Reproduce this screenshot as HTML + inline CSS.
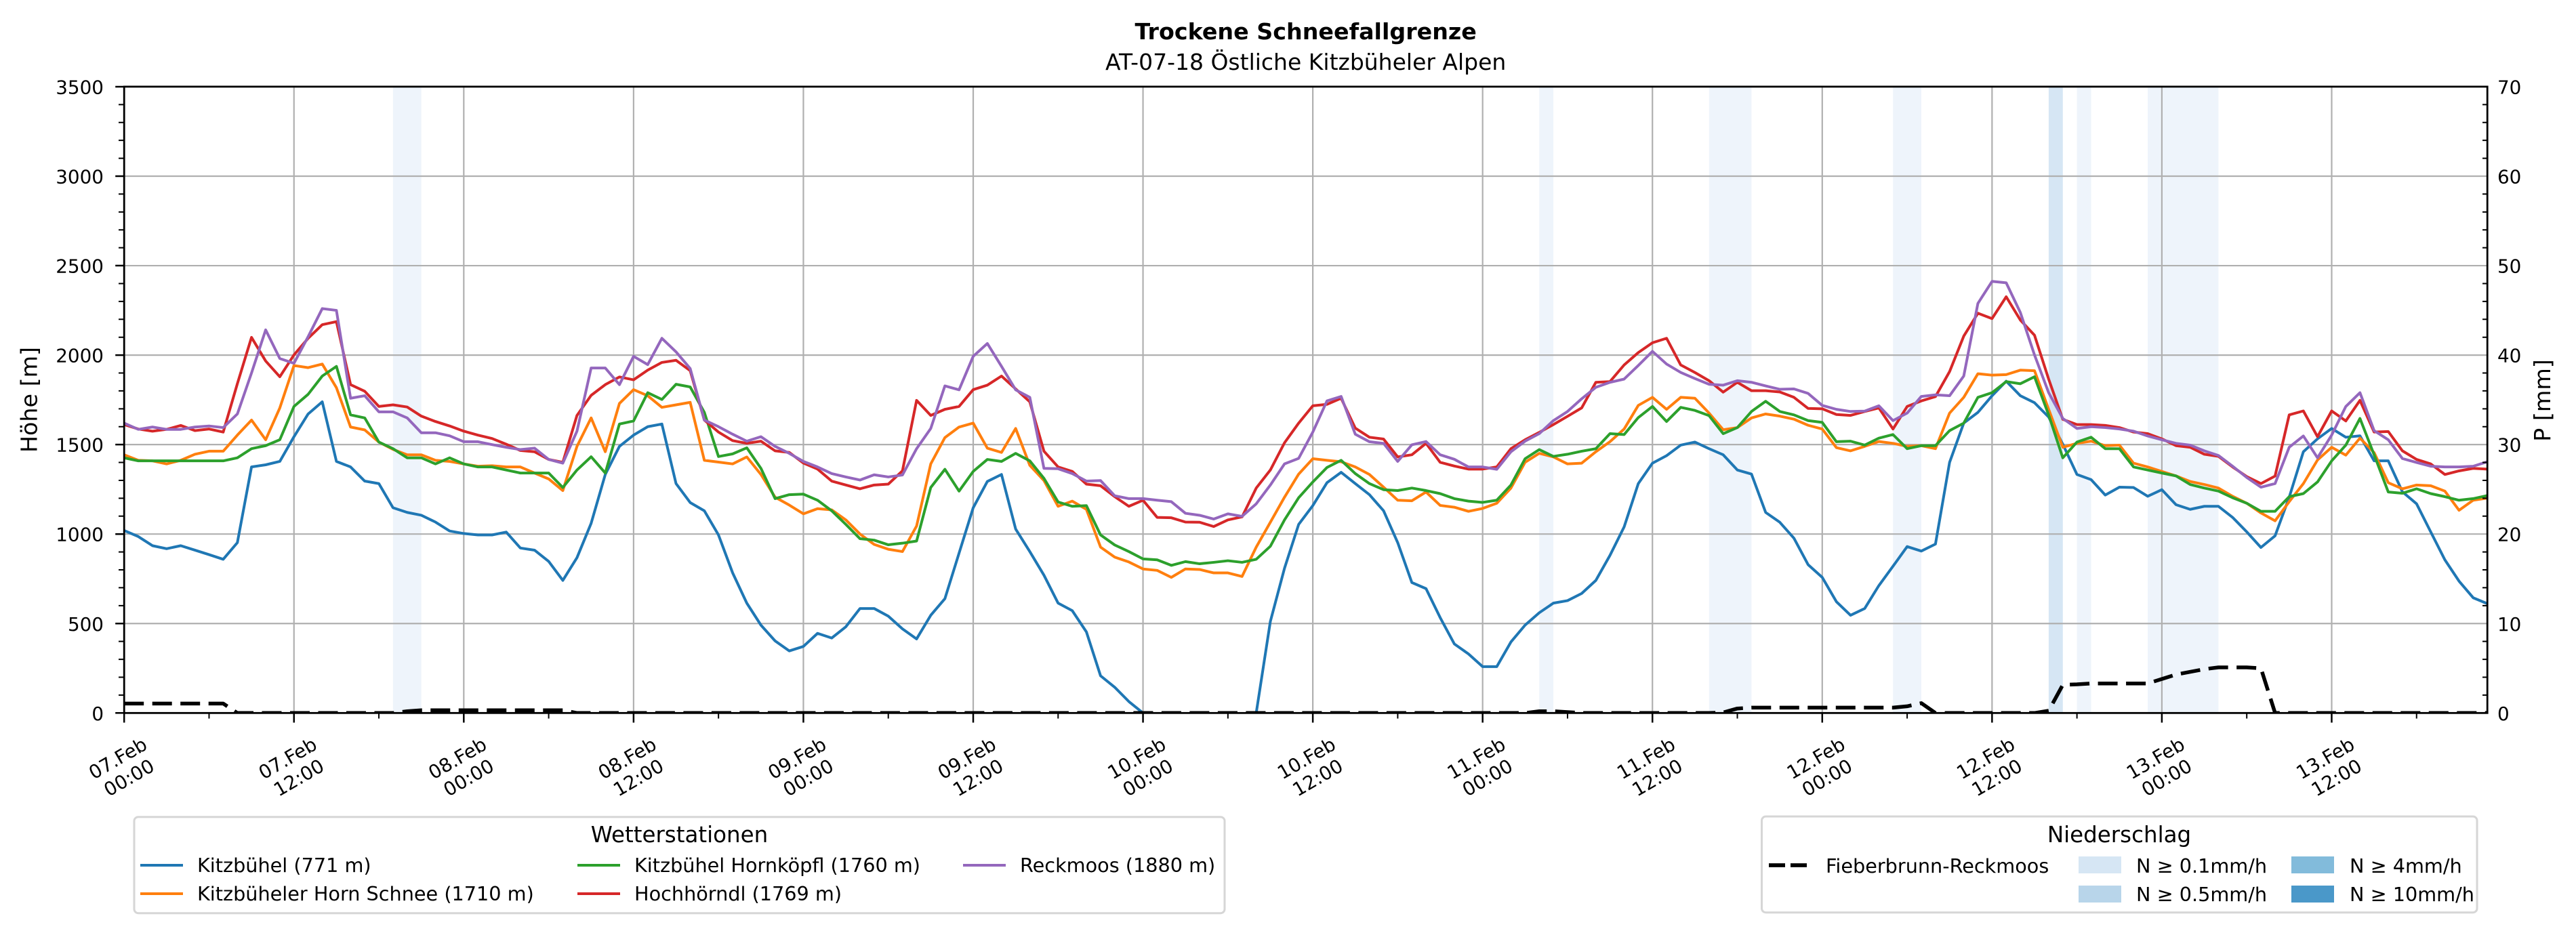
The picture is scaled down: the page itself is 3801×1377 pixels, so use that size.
<!DOCTYPE html>
<html><head><meta charset="utf-8"><style>html,body{margin:0;padding:0;background:#fff}svg{display:block}</style></head>
<body>
<svg width="3801" height="1377" viewBox="0 0 3801 1377" xmlns="http://www.w3.org/2000/svg" font-family="'DejaVu Sans','Liberation Sans',sans-serif">
<rect width="3801" height="1377" fill="#fff"/>
<defs><clipPath id="c"><rect x="183.2" y="127.9" width="3487" height="924.4"/></clipPath></defs>
<!-- precipitation shading -->
<g fill="#eef4fb">
<rect x="579.9" y="127.9" width="41.8" height="924.4"/>
<rect x="2271.2" y="127.9" width="20.9" height="924.4"/>
<rect x="2521.8" y="127.9" width="62.6" height="924.4"/>
<rect x="2793.2" y="127.9" width="41.8" height="924.4"/>
<rect x="3064.6" y="127.9" width="20.9" height="924.4"/>
<rect x="3169.0" y="127.9" width="104.4" height="924.4"/>
</g>
<rect x="3022.9" y="127.9" width="20.9" height="924.4" fill="#d6e6f4"/>
<!-- grid -->
<path stroke="#b0b0b0" stroke-width="2.2" fill="none" d="M183.2 920.25H3670.2M183.2 788.2H3670.2M183.2 656.15H3670.2M183.2 524.1H3670.2M183.2 392.05H3670.2M183.2 260H3670.2M433.76 127.9V1052.3M684.32 127.9V1052.3M934.88 127.9V1052.3M1185.44 127.9V1052.3M1436 127.9V1052.3M1686.56 127.9V1052.3M1937.12 127.9V1052.3M2187.68 127.9V1052.3M2438.24 127.9V1052.3M2688.8 127.9V1052.3M2939.36 127.9V1052.3M3189.92 127.9V1052.3M3440.48 127.9V1052.3"/>
<!-- series -->
<g clip-path="url(#c)">
<g transform="translate(183.2 1052.3) scale(20.88 -0.2641)" fill="none" stroke-linejoin="round" stroke-linecap="square">
<polyline vector-effect="non-scaling-stroke" stroke-width="4" stroke="#1f77b4" points="0,1020 1,986 2,935 3,918 4,935 5,910 6,885 7,859 8,952 9,1375 10,1387 11,1406 12,1544 13,1671 14,1739 15,1406 16,1375 17,1296 18,1282 19,1147 20,1121 21,1105 22,1067 23,1017 24,1003 25,995 26,995 27,1011 28,922 29,910 30,847 31,741 32,868 33,1060 34,1333 35,1490 36,1553 37,1600 38,1615 39,1282 40,1176 41,1130 42,995 43,783 44,614 45,491 46,403 47,347 48,372 49,445 50,419 51,482 52,584 53,584 54,541 55,470 56,414 57,546 58,639 59,893 60,1147 61,1294 62,1333 63,1028 64,902 65,770 66,614 67,572 68,453 69,208 70,144 71,64 72,0 73,-150 74,-150 75,-150 76,-150 77,-150 78,-150 79,-150 80,0 81,512 82,809 83,1054 84,1159 85,1287 86,1345 87,1282 88,1220 89,1130 90,952 91,729 92,695 93,533 94,386 95,330 96,259 97,259 98,397 99,491 100,560 101,614 102,628 103,668 104,741 105,881 106,1040 107,1282 108,1396 109,1438 110,1497 111,1514 112,1477 113,1443 114,1358 115,1335 116,1121 117,1066 118,977 119,829 120,758 121,622 122,546 123,584 124,712 125,820 126,930 127,905 128,944 129,1401 130,1620 131,1680 132,1773 133,1854 134,1773 135,1734 136,1654 137,1502 138,1333 139,1304 140,1218 141,1262 142,1260 143,1211 144,1248 145,1164 146,1138 147,1155 148,1155 149,1093 150,1012 151,925 152,990 153,1206 154,1460 155,1532 156,1590 157,1541 158,1549 159,1409 160,1409 161,1236 162,1169 163,1012 164,856 165,737 166,644 167,611"/>
<polyline vector-effect="non-scaling-stroke" stroke-width="4" stroke="#ff7f0e" points="0,1443 1,1412 2,1409 3,1392 4,1412 5,1446 6,1463 7,1463 8,1553 9,1637 10,1527 11,1705 12,1942 13,1930 14,1950 15,1818 16,1598 17,1582 18,1514 19,1473 20,1443 21,1443 22,1412 23,1406 24,1392 25,1379 26,1382 27,1375 28,1375 29,1341 30,1308 31,1243 32,1490 33,1649 34,1460 35,1730 36,1807 37,1773 38,1708 39,1722 40,1736 41,1412 42,1402 43,1392 44,1431 45,1333 46,1206 47,1162 48,1113 49,1142 50,1135 51,1079 52,1000 53,942 54,915 55,902 56,1045 57,1392 58,1539 59,1598 60,1620 61,1480 62,1456 63,1590 64,1384 65,1299 66,1155 67,1184 68,1138 69,927 70,871 71,844 72,805 73,797 74,758 75,805 76,802 77,783 78,783 79,763 80,927 81,1066 82,1206 83,1335 84,1421 85,1412 86,1404 87,1375 88,1333 89,1262 90,1189 91,1186 92,1235 93,1160 94,1150 95,1127 96,1143 97,1172 98,1257 99,1401 100,1451 101,1431 102,1392 103,1396 104,1460 105,1516 106,1587 107,1719 108,1764 109,1697 110,1764 111,1759 112,1676 113,1583 114,1595 115,1649 116,1671 117,1659 118,1642 119,1608 120,1587 121,1483 122,1465 123,1490 124,1517 125,1507 126,1490 127,1494 128,1477 129,1676 130,1764 131,1896 132,1888 133,1891 134,1916 135,1913 136,1697 137,1485 138,1507 139,1519 140,1494 141,1497 142,1396 143,1375 144,1350 145,1325 146,1294 147,1277 148,1257 149,1211 150,1172 151,1118 152,1074 153,1181 154,1282 155,1414 156,1485 157,1441 158,1536 159,1455 160,1287 161,1253 162,1274 163,1270 164,1240 165,1133 166,1189 167,1201"/>
<polyline vector-effect="non-scaling-stroke" stroke-width="4" stroke="#2ca02c" points="0,1426 1,1409 2,1409 3,1409 4,1409 5,1409 6,1409 7,1409 8,1426 9,1477 10,1494 11,1527 12,1713 13,1781 14,1883 15,1937 16,1666 17,1649 18,1514 19,1477 20,1426 21,1426 22,1392 23,1426 24,1392 25,1375 26,1375 27,1358 28,1341 29,1341 30,1341 31,1260 32,1358 33,1432 34,1341 35,1615 36,1632 37,1790 38,1752 39,1837 40,1822 41,1680 42,1433 43,1448 44,1482 45,1367 46,1198 47,1220 48,1223 49,1189 50,1130 51,1054 52,974 53,966 54,940 55,949 56,961 57,1260 58,1362 59,1240 60,1350 61,1417 62,1406 63,1451 64,1409 65,1311 66,1179 67,1155 68,1159 69,995 70,939 71,902 72,861 73,856 74,825 75,846 76,834 77,842 78,851 79,842 80,859 81,932 82,1079 83,1203 84,1291 85,1372 86,1412 87,1338 88,1282 89,1248 90,1243 91,1257 92,1243 93,1226 94,1198 95,1184 96,1177 97,1189 98,1274 99,1421 100,1472 101,1434 102,1446 103,1463 104,1477 105,1561 106,1556 107,1651 108,1713 109,1629 110,1708 111,1691 112,1662 113,1561 114,1595 115,1685 116,1742 117,1685 118,1666 119,1634 120,1624 121,1516 122,1519 123,1497 124,1536 125,1556 126,1477 127,1494 128,1494 129,1578 130,1620 131,1764 132,1790 133,1852 134,1840 135,1879 136,1666 137,1426 138,1514 139,1541 140,1477 141,1477 142,1375 143,1358 144,1341 145,1325 146,1277 147,1257 148,1240 149,1203 150,1172 151,1127 152,1127 153,1209 154,1226 155,1291 156,1409 157,1497 158,1646 159,1443 160,1235 161,1228 162,1253 163,1226 164,1209 165,1189 166,1198 167,1215"/>
<polyline vector-effect="non-scaling-stroke" stroke-width="4" stroke="#d62728" points="0,1612 1,1587 2,1575 3,1585 4,1607 5,1578 6,1587 7,1570 8,1840 9,2099 10,1967 11,1879 12,2001 13,2094 14,2170 15,2187 16,1835 17,1798 18,1713 19,1722 20,1710 21,1659 22,1629 23,1604 24,1575 25,1553 26,1534 27,1502 28,1467 29,1460 30,1417 31,1401 32,1663 33,1775 34,1835 35,1878 36,1862 37,1916 38,1959 39,1971 40,1913 41,1637 42,1570 43,1522 44,1507 45,1519 46,1465 47,1456 48,1397 49,1363 50,1296 51,1274 52,1253 53,1274 54,1279 55,1353 56,1747 57,1663 58,1697 59,1713 60,1807 61,1832 62,1883 63,1811 64,1739 65,1463 66,1375 67,1350 68,1279 69,1270 70,1209 71,1155 72,1189 73,1093 74,1091 75,1067 76,1066 77,1042 78,1079 79,1096 80,1257 81,1358 82,1510 83,1620 84,1717 85,1725 86,1759 87,1592 88,1541 89,1531 90,1431 91,1443 92,1507 93,1401 94,1380 95,1363 96,1363 97,1375 98,1477 99,1527 100,1568 101,1612 102,1658 103,1705 104,1848 105,1852 106,1945 107,2014 108,2069 109,2094 110,1945 111,1903 112,1857 113,1793 114,1848 115,1801 116,1801 117,1794 118,1764 119,1702 120,1700 121,1668 122,1663 123,1685 124,1705 125,1587 126,1713 127,1744 128,1768 129,1908 130,2106 131,2234 132,2204 133,2326 134,2196 135,2111 136,1866 137,1641 138,1612 139,1612 140,1607 141,1595 142,1570 143,1561 144,1532 145,1494 146,1485 147,1446 148,1434 149,1375 150,1321 151,1282 152,1324 153,1666 154,1688 155,1544 156,1688 157,1632 158,1747 159,1570 160,1573 161,1465 162,1417 163,1392 164,1333 165,1353 166,1367 167,1363"/>
<polyline vector-effect="non-scaling-stroke" stroke-width="4" stroke="#9467bd" points="0,1620 1,1585 2,1598 3,1585 4,1585 5,1598 6,1604 7,1595 8,1671 9,1900 10,2141 11,1981 12,1954 13,2103 14,2260 15,2250 16,1759 17,1773 18,1683 19,1683 20,1649 21,1566 22,1566 23,1549 24,1516 25,1516 26,1500 27,1485 28,1472 29,1480 30,1417 31,1396 32,1575 33,1928 34,1928 35,1835 36,1993 37,1947 38,2094 39,2018 40,1925 41,1637 42,1600 43,1558 44,1519 45,1544 46,1490 47,1451 48,1406 49,1375 50,1338 51,1319 52,1302 53,1331 54,1319 55,1330 56,1477 57,1590 58,1828 59,1806 60,1993 61,2065 62,1937 63,1806 64,1764 65,1367 66,1365 67,1338 68,1296 69,1299 70,1214 71,1198 72,1198 73,1189 74,1181 75,1116 76,1105 77,1084 78,1113 79,1099 80,1169 81,1274 82,1392 83,1423 84,1570 85,1744 86,1769 87,1558 88,1516 89,1507 90,1406 91,1499 92,1517 93,1443 94,1418 95,1375 96,1375 97,1362 98,1460 99,1519 100,1561 101,1634 102,1685 103,1756 104,1820 105,1848 106,1866 107,1942 108,2021 109,1950 110,1903 111,1869 112,1837 113,1832 114,1857 115,1848 116,1828 117,1809 118,1811 119,1786 120,1719 121,1697 122,1685 123,1687 124,1717 125,1634 126,1676 127,1769 128,1778 129,1773 130,1883 131,2289 132,2412 133,2404 134,2238 135,2001 136,1790 137,1646 138,1590 139,1600 140,1595 141,1587 142,1575 143,1548 144,1527 145,1507 146,1497 147,1465 148,1439 149,1379 150,1316 151,1262 152,1282 153,1485 154,1548 155,1426 156,1553 157,1713 158,1790 159,1578 160,1527 161,1422 162,1400 163,1379 164,1375 165,1375 166,1379 167,1404"/>
</g>
<polyline fill="none" stroke="#000" stroke-width="5.5" stroke-dasharray="29 12.5" stroke-linejoin="round" points="183.2,1038.4 329.4,1038.4 350.2,1052.3 579.9,1052.3 600.8,1049.7 621.7,1048.3 830.5,1048.3 851.4,1052.3 2250.3,1052.3 2271.2,1049.7 2292.1,1049.7 2313,1051 2333.8,1052.3 2521.8,1052.3 2542.6,1051.6 2563.5,1045.7 2584.4,1044.4 2793.2,1044.4 2814.1,1042.4 2835,1037.8 2855.8,1052.3 3002,1052.3 3022.9,1049 3043.8,1010.7 3064.6,1010 3085.5,1008.7 3169,1008.7 3189.9,1002.1 3210.8,995.5 3231.7,991.6 3252.6,987.6 3273.4,985 3315.2,985 3336.1,986.3 3357,1052.3 3670.2,1052.3"/>
</g>
<!-- spines -->
<rect x="183.2" y="127.9" width="3487" height="924.4" fill="none" stroke="#000" stroke-width="2.8"/>
<!-- ticks -->
<path stroke="#000" stroke-width="2.5" fill="none" d="M170.2 1052.3H183.2M170.2 920.25H183.2M170.2 788.2H183.2M170.2 656.15H183.2M170.2 524.1H183.2M170.2 392.05H183.2M170.2 260H183.2M170.2 127.95H183.2"/>
<path stroke="#000" stroke-width="2" fill="none" d="M175 1025.89H183.2M175 999.48H183.2M175 973.07H183.2M175 946.66H183.2M175 893.84H183.2M175 867.43H183.2M175 841.02H183.2M175 814.61H183.2M175 761.79H183.2M175 735.38H183.2M175 708.97H183.2M175 682.56H183.2M175 629.74H183.2M175 603.33H183.2M175 576.92H183.2M175 550.51H183.2M175 497.69H183.2M175 471.28H183.2M175 444.87H183.2M175 418.46H183.2M175 365.64H183.2M175 339.23H183.2M175 312.82H183.2M175 286.41H183.2M175 233.59H183.2M175 207.18H183.2M175 180.77H183.2M175 154.36H183.2"/>
<path stroke="#000" stroke-width="2" fill="none" d="M3663 1025.89H3670.2M3663 999.48H3670.2M3663 973.07H3670.2M3663 946.66H3670.2M3663 893.84H3670.2M3663 867.43H3670.2M3663 841.02H3670.2M3663 814.61H3670.2M3663 761.79H3670.2M3663 735.38H3670.2M3663 708.97H3670.2M3663 682.56H3670.2M3663 629.74H3670.2M3663 603.33H3670.2M3663 576.92H3670.2M3663 550.51H3670.2M3663 497.69H3670.2M3663 471.28H3670.2M3663 444.87H3670.2M3663 418.46H3670.2M3663 365.64H3670.2M3663 339.23H3670.2M3663 312.82H3670.2M3663 286.41H3670.2M3663 233.59H3670.2M3663 207.18H3670.2M3663 180.77H3670.2M3663 154.36H3670.2"/>
<path stroke="#000" stroke-width="2.5" fill="none" d="M183.2 1052.3V1066.5M433.76 1052.3V1066.5M684.32 1052.3V1066.5M934.88 1052.3V1066.5M1185.44 1052.3V1066.5M1436 1052.3V1066.5M1686.56 1052.3V1066.5M1937.12 1052.3V1066.5M2187.68 1052.3V1066.5M2438.24 1052.3V1066.5M2688.8 1052.3V1066.5M2939.36 1052.3V1066.5M3189.92 1052.3V1066.5M3440.48 1052.3V1066.5"/>
<path stroke="#000" stroke-width="2" fill="none" d="M308.48 1052.3V1060.5M559.04 1052.3V1060.5M809.6 1052.3V1060.5M1060.16 1052.3V1060.5M1310.72 1052.3V1060.5M1561.28 1052.3V1060.5M1811.84 1052.3V1060.5M2062.4 1052.3V1060.5M2312.96 1052.3V1060.5M2563.52 1052.3V1060.5M2814.08 1052.3V1060.5M3064.64 1052.3V1060.5M3315.2 1052.3V1060.5M3565.76 1052.3V1060.5"/>
<!-- y tick labels -->
<g font-size="27.8" fill="#000" text-anchor="end">
<text x="153" y="1062.8">0</text>
<text x="153" y="930.75">500</text>
<text x="153" y="798.7">1000</text>
<text x="153" y="666.65">1500</text>
<text x="153" y="534.6">2000</text>
<text x="153" y="402.55">2500</text>
<text x="153" y="270.5">3000</text>
<text x="153" y="138.45">3500</text>
</g>
<g font-size="27.8" fill="#000">
<text x="3685" y="1062.8">0</text>
<text x="3685" y="930.75">10</text>
<text x="3685" y="798.7">20</text>
<text x="3685" y="666.65">30</text>
<text x="3685" y="534.6">40</text>
<text x="3685" y="402.55">50</text>
<text x="3685" y="270.5">60</text>
<text x="3685" y="138.45">70</text>
</g>
<!-- x tick labels -->
<g font-size="27.8" fill="#000" text-anchor="middle">
<text transform="translate(181.2 1132) rotate(-30)"><tspan x="0" y="-5">07.Feb</tspan><tspan x="0" y="28">00:00</tspan></text>
<text transform="translate(431.76 1132) rotate(-30)"><tspan x="0" y="-5">07.Feb</tspan><tspan x="0" y="28">12:00</tspan></text>
<text transform="translate(682.32 1132) rotate(-30)"><tspan x="0" y="-5">08.Feb</tspan><tspan x="0" y="28">00:00</tspan></text>
<text transform="translate(932.88 1132) rotate(-30)"><tspan x="0" y="-5">08.Feb</tspan><tspan x="0" y="28">12:00</tspan></text>
<text transform="translate(1183.44 1132) rotate(-30)"><tspan x="0" y="-5">09.Feb</tspan><tspan x="0" y="28">00:00</tspan></text>
<text transform="translate(1434 1132) rotate(-30)"><tspan x="0" y="-5">09.Feb</tspan><tspan x="0" y="28">12:00</tspan></text>
<text transform="translate(1684.56 1132) rotate(-30)"><tspan x="0" y="-5">10.Feb</tspan><tspan x="0" y="28">00:00</tspan></text>
<text transform="translate(1935.12 1132) rotate(-30)"><tspan x="0" y="-5">10.Feb</tspan><tspan x="0" y="28">12:00</tspan></text>
<text transform="translate(2185.68 1132) rotate(-30)"><tspan x="0" y="-5">11.Feb</tspan><tspan x="0" y="28">00:00</tspan></text>
<text transform="translate(2436.24 1132) rotate(-30)"><tspan x="0" y="-5">11.Feb</tspan><tspan x="0" y="28">12:00</tspan></text>
<text transform="translate(2686.8 1132) rotate(-30)"><tspan x="0" y="-5">12.Feb</tspan><tspan x="0" y="28">00:00</tspan></text>
<text transform="translate(2937.36 1132) rotate(-30)"><tspan x="0" y="-5">12.Feb</tspan><tspan x="0" y="28">12:00</tspan></text>
<text transform="translate(3187.92 1132) rotate(-30)"><tspan x="0" y="-5">13.Feb</tspan><tspan x="0" y="28">00:00</tspan></text>
<text transform="translate(3438.48 1132) rotate(-30)"><tspan x="0" y="-5">13.Feb</tspan><tspan x="0" y="28">12:00</tspan></text>
</g>
<!-- axis labels -->
<text transform="translate(44.4 590) rotate(-90)" y="10" font-size="33.3" text-anchor="middle" fill="#000">Höhe [m]</text>
<text transform="translate(3753 591) rotate(-90)" y="10" font-size="33.3" text-anchor="middle" fill="#000">P [mm]</text>
<!-- titles -->
<text x="1926.7" y="58" font-size="33.3" font-weight="bold" text-anchor="middle" fill="#000">Trockene Schneefallgrenze</text>
<text x="1926.7" y="103" font-size="33" text-anchor="middle" fill="#000">AT-07-18 Östliche Kitzbüheler Alpen</text>
<!-- left legend -->
<rect x="198" y="1205.7" width="1609" height="142" rx="6" ry="6" fill="#fff" stroke="#d6d6d6" stroke-width="3"/>
<text x="1002.5" y="1243" font-size="32.5" text-anchor="middle" fill="#000">Wetterstationen</text>
<g stroke-width="4">
<line x1="207" y1="1277" x2="270" y2="1277" stroke="#1f77b4"/>
<line x1="207" y1="1319" x2="270" y2="1319" stroke="#ff7f0e"/>
<line x1="852" y1="1277" x2="915" y2="1277" stroke="#2ca02c"/>
<line x1="852" y1="1319" x2="915" y2="1319" stroke="#d62728"/>
<line x1="1421" y1="1277" x2="1484" y2="1277" stroke="#9467bd"/>
</g>
<g font-size="28.7" fill="#000">
<text x="291" y="1287">Kitzbühel (771 m)</text>
<text x="291" y="1329">Kitzbüheler Horn Schnee (1710 m)</text>
<text x="936" y="1287">Kitzbühel Hornköpfl (1760 m)</text>
<text x="936" y="1329">Hochhörndl (1769 m)</text>
<text x="1505" y="1287">Reckmoos (1880 m)</text>
</g>
<!-- right legend -->
<rect x="2599.5" y="1205" width="1055.5" height="141.7" rx="6" ry="6" fill="#fff" stroke="#d6d6d6" stroke-width="3"/>
<text x="3127" y="1243" font-size="32.5" text-anchor="middle" fill="#000">Niederschlag</text>
<line x1="2610" y1="1277" x2="2666" y2="1277" stroke="#000" stroke-width="5.7" stroke-dasharray="24 8"/>
<rect x="3067" y="1264" width="63" height="25" fill="#d6e6f4"/>
<rect x="3067" y="1307" width="63" height="25" fill="#b8d5ea"/>
<rect x="3381" y="1264" width="63" height="25" fill="#82bbdb"/>
<rect x="3381" y="1307" width="63" height="25" fill="#4a98c9"/>
<g font-size="28.7" fill="#000">
<text x="2694" y="1288">Fieberbrunn-Reckmoos</text>
<text x="3152" y="1288">N ≥ 0.1mm/h</text>
<text x="3152" y="1330">N ≥ 0.5mm/h</text>
<text x="3467" y="1288">N ≥ 4mm/h</text>
<text x="3467" y="1330">N ≥ 10mm/h</text>
</g>
</svg>
</body></html>
